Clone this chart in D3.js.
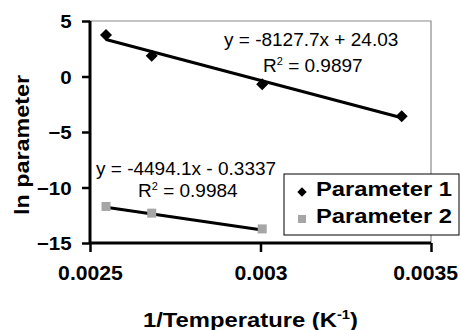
<!DOCTYPE html>
<html><head><meta charset="utf-8">
<script src="https://cdn.jsdelivr.net/npm/d3@7"></script>
<style>body{margin:0;background:#fff}svg{display:block;font-family:"Liberation Sans",Arial,sans-serif}</style>
</head><body><svg id="c" width="460" height="330"></svg>
<script>
const series = ["Parameter 1", "Parameter 2"];
const x1 = [0.002547, 0.002681, 0.003005, 0.003414];
const y1 = [3.73, 1.86, -0.70, -3.57];
const x2 = [0.002547, 0.002681, 0.003005];
const y2 = [-11.71, -12.31, -13.73];
const slopes = [-8127.7, -4494.1];
const intercepts = [24.03, -0.3337];
const eqLabels = ["y = -8127.7x + 24.03", "y = -4494.1x - 0.3337"];
const r2Labels = ["0.9897", "0.9984"];
const xTicks = [0.0025, 0.003, 0.0035];
const xTickLabels = ["0.0025", "0.003", "0.0035"];
const yTicks = [5, 0, -5, -10, -15];

const svg = d3.select("#c");
const L = 90, R = 431, T = 21, B = 243;
const x = d3.scaleLinear().domain([0.0025, 0.0035]).range([L, R]);
const y = d3.scaleLinear().domain([-15, 5]).range([B, T]);

// plot frame (gray top/right)
svg.append("path").attr("d", `M${L},${T}H${R}V${B}`).attr("fill","none").attr("stroke","#8a8a8a").attr("stroke-width",1.2);

// axes
const ya = svg.append("g").attr("transform", `translate(${L},0)`)
  .call(d3.axisLeft(y).tickValues(yTicks).tickSize(8).tickPadding(9).tickFormat(d3.format("d")));
const xa = svg.append("g").attr("transform", `translate(0,${B})`)
  .call(d3.axisBottom(x).tickValues(xTicks).tickSize(9).tickPadding(14).tickFormat((d,i)=>xTickLabels[i]));
[ya, xa].forEach(g => {
  g.select(".domain").attr("stroke","#000").attr("stroke-width",3);
  g.selectAll(".tick line").attr("stroke","#000").attr("stroke-width",2.5);
  g.selectAll(".tick text").attr("fill","#000").attr("font-weight","bold").attr("font-family","'Liberation Sans',Arial,sans-serif");
});
ya.selectAll(".tick text").attr("font-size",19).attr("dy","0.36em").attr("transform","scale(1.08,1)");
xa.selectAll(".tick text").attr("font-size",20).attr("dy","0.72em").attr("transform","scale(1.06,1)");
xa.selectAll(".tick text").filter((d,i)=>i===xTicks.length-1).attr("text-anchor","end").attr("x",25);
ya.select(".domain").attr("d", `M0,${B}V${T}`);
xa.select(".domain").attr("d", `M${L},0H${R}`);

// trend lines
const xs = [x1, x2];
xs.forEach((xv, i) => {
  const xa0 = d3.min(xv), xa1 = d3.max(xv);
  svg.append("line")
    .attr("x1", x(xa0)).attr("y1", y(slopes[i]*xa0 + intercepts[i]))
    .attr("x2", x(xa1)).attr("y2", y(slopes[i]*xa1 + intercepts[i]))
    .attr("stroke","#000").attr("stroke-width",3);
});

// markers
const diamond = d3.symbol().type(d3.symbolSquare).size(72);
svg.append("g").selectAll("path").data(x1.map((d,i)=>[d,y1[i]])).join("path")
  .attr("d", diamond).attr("transform", d=>`translate(${x(d[0])},${y(d[1])}) rotate(45)`).attr("fill","#000");
svg.append("g").selectAll("rect").data(x2.map((d,i)=>[d,y2[i]])).join("rect")
  .attr("x", d=>x(d[0])-4.5).attr("y", d=>y(d[1])-4.5).attr("width",9).attr("height",9).attr("fill","#a6a6a6");

// equations
const eq = svg.append("g").attr("font-size",19).attr("fill","#000");
eq.append("text").attr("x",224).attr("y",45.5).text(eqLabels[0]);
const r1 = eq.append("text").attr("x",263).attr("y",72);
r1.append("tspan").text("R");
r1.append("tspan").attr("dy",-7).attr("font-size",11).text("2");
r1.append("tspan").attr("dy",7).text(" = " + r2Labels[0]);
eq.append("text").attr("x",96).attr("y",175).text(eqLabels[1]);
const r2 = eq.append("text").attr("x",138).attr("y",197);
r2.append("tspan").text("R");
r2.append("tspan").attr("dy",-7).attr("font-size",11).text("2");
r2.append("tspan").attr("dy",7).text(" = " + r2Labels[1]);

// legend
const lg = svg.append("g");
lg.append("rect").attr("x",284).attr("y",174).attr("width",175).attr("height",61).attr("fill","#fff").attr("stroke","#000").attr("stroke-width",1);
lg.append("path").attr("d", d3.symbol().type(d3.symbolSquare).size(44)).attr("transform","translate(302,192) rotate(45)").attr("fill","#000");
lg.append("rect").attr("x",298).attr("y",215).attr("width",8).attr("height",8).attr("fill","#a6a6a6");
series.forEach((s,i)=>{
  lg.append("text").attr("x",316).attr("y",196+i*27).attr("font-size",20).attr("font-weight","bold")
    .attr("textLength",136).attr("lengthAdjust","spacingAndGlyphs").text(s);
});

// axis titles
const xt = svg.append("text").attr("x",143).attr("y",327).attr("font-size",21).attr("font-weight","bold")
  .attr("textLength",215).attr("lengthAdjust","spacingAndGlyphs");
xt.append("tspan").text("1/Temperature (K");
xt.append("tspan").attr("dy",-8).attr("font-size",13).text("-1");
xt.append("tspan").attr("dy",8).text(")");
svg.append("text").attr("transform","translate(28.5,145) rotate(-90)").attr("text-anchor","middle").attr("font-size",21).attr("font-weight","bold")
  .attr("textLength",140).attr("lengthAdjust","spacingAndGlyphs").text("ln parameter");
</script></body></html>
